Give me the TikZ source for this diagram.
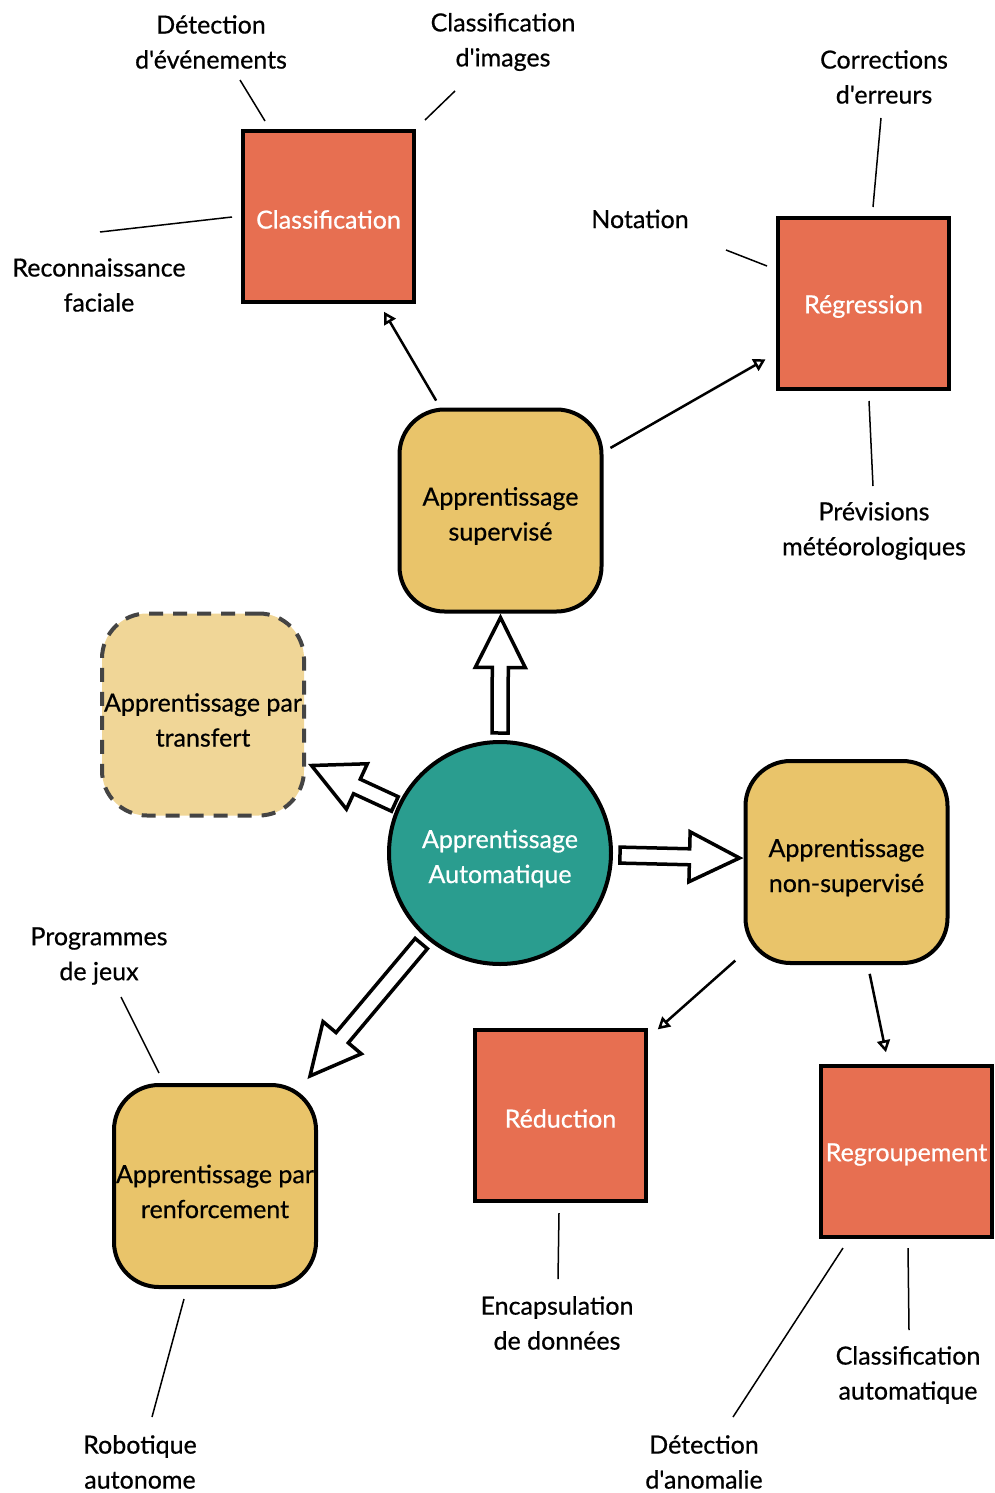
\documentclass[tikz,border=0pt]{standalone}
\usepackage{fontspec}
\setmainfont{Lato}[Ligatures=TeXOff, FakeBold=0.6]
\usetikzlibrary{arrows.meta,calc}
\definecolor{mlteal}{HTML}{2A9D8F}
\definecolor{mlyellow}{HTML}{E9C46A}
\definecolor{mlpale}{HTML}{F0D697}
\definecolor{mlred}{HTML}{E76F51}
\definecolor{mldash}{HTML}{444444}
\newcommand\fatarrow[2]{%
  \coordinate (fab) at ($(#2)!50pt!(#1)$);
  \draw[fat] ($(#1)!8pt!90:(#2)$) -- ($(fab)!8pt!-90:(#1)$) -- ($(fab)!25pt!-90:(#1)$) -- (#2)
    -- ($(fab)!25pt!90:(#1)$) -- ($(fab)!8pt!90:(#1)$) -- ($(#1)!8pt!-90:(#2)$) -- cycle;}
\begin{document}
\begin{tikzpicture}[x=1pt,y=-1pt,
  every node/.style={font=\fontsize{25}{35}\selectfont, align=center},
  core/.style={circle, draw=black, line width=4pt, fill=mlteal, minimum size=222pt, inner sep=0pt,
    label={[text=white, yshift=-5.5pt]center:#1}},
  cat/.style={rectangle, rounded corners=45pt, draw=black, line width=4pt, fill=mlyellow, minimum width=202pt, minimum height=202pt, inner sep=0pt,
    label={[yshift=-5.5pt]center:#1}},
  catdash/.style={cat=#1, fill=mlpale, draw=mldash, dash pattern=on 14pt off 10pt},
  task/.style={rectangle, draw=black, line width=4pt, fill=mlred, minimum size=171pt, inner sep=0pt,
    label={[text=white, yshift=-3pt]center:#1}},
  lab/.style={inner sep=0pt},
  lnk/.style={line width=1.5pt},
  subarr/.style={line width=2.5pt, -{Triangle[open, length=12pt, width=13pt]}},
  fat/.style={draw=black, line width=3.5pt, fill=white, line join=miter}
]
\useasboundingbox (0,0) rectangle (995,1493);
% main nodes
\node[core={Apprentissage\\Automatique}] (c) at (500,853) {};
\node[cat={Apprentissage\\supervisé}] (sup) at (500.5,510.5) {};
\node[catdash={Apprentissage par\\transfert}] (tr) at (203,714.5) {};
\node[cat={Apprentissage\\non-supervisé}] (ns) at (846.5,862) {};
\node[cat={Apprentissage par\\renforcement}] (rf) at (215,1186) {};
\node[task=Classification] (cls) at (328.5,216.5) {};
\node[task=Régression] (reg) at (863.5,303.5) {};
\node[task=Réduction] (red) at (560.5,1115.5) {};
\node[task=Regroupement] (grp) at (906.5,1151.5) {};
% labels
\node[lab] (detev) at (211,42) {Détection\\d'événements};
\node[lab] (clsimg) at (503,42) {Classification\\d'images};
\node[lab] (recog) at (99,285) {Reconnaissance\\faciale};
\node[lab] (corr) at (884,77) {Corrections\\d'erreurs};
\node[lab] (nota) at (640,219) {Notation};
\node[lab] (prev) at (874,531) {Prévisions\\météorologiques};
\node[lab] (encap) at (557,1323) {Encapsulation\\de données};
\node[lab] (clsauto) at (908,1375) {Classification\\automatique};
\node[lab] (anom) at (704,1462) {Détection\\d'anomalie};
\node[lab] (prog) at (99,956) {Programmes\\de jeux};
\node[lab] (robo) at (140,1462) {Robotique\\autonome};
% label lines
\draw[lnk] ($(cls)+(-63.5,-95.5)$) -- ($(detev)+(29,38)$);
\draw[lnk] ($(cls)+(96.5,-96.5)$) -- ($(clsimg)+(-48,49)$);
\draw[lnk] ($(cls)+(-96.5,0.5)$) -- ($(recog)+(1,-53)$);
\draw[lnk] ($(reg)+(9.5,-96.5)$) -- ($(corr)+(-3,41)$);
\draw[lnk] ($(reg)+(-96.5,-37.5)$) -- ($(nota)+(86,31)$);
\draw[lnk] ($(reg)+(5.5,97.5)$) -- ($(prev)+(-1,-45)$);
\draw[lnk] ($(red)+(-1.5,97.5)$) -- ($(encap)+(1,-44)$);
\draw[lnk] ($(grp)+(1.5,96.5)$) -- ($(clsauto)+(1,-45)$);
\draw[lnk] ($(grp)+(-63.5,96.5)$) -- ($(anom)+(29,-45)$);
\draw[lnk] ($(rf)+(-56,-113)$) -- ($(prog)+(22,41)$);
\draw[lnk] ($(rf)+(-31,113)$) -- ($(robo)+(12,-45)$);
% thin arrows
\draw[subarr, shorten <=8pt, shorten >=9pt] (sup) -- (cls);
\draw[subarr, shorten <=8pt, shorten >=12pt] (sup) -- (reg);
\draw[subarr, shorten <=11pt, shorten >=13pt] (ns) -- (red);
\draw[subarr, shorten <=9pt, shorten >=12pt] (ns) -- (grp);
% fat arrows
\coordinate (s1) at ($(c)!120pt!(c.90)$);
\coordinate (e1) at ($(sup.south)+(0,4)$);
\coordinate (s2) at ($(c)!116pt!(c.155.6)$);
\coordinate (e2) at ($(tr.east)+(5.5,51)$);
\coordinate (s3) at ($(c)!120pt!(c.-1.9)$);
\coordinate (e3) at ($(ns.west)+(-4,-4)$);
\coordinate (s4) at ($(c)!120pt!(c.229.4)$);
\coordinate (e4) at ($(rf.north east)+(-8,-7)$);
\fatarrow{s1}{e1}
\fatarrow{s2}{e2}
\fatarrow{s3}{e3}
\fatarrow{s4}{e4}
\end{tikzpicture}
\end{document}
